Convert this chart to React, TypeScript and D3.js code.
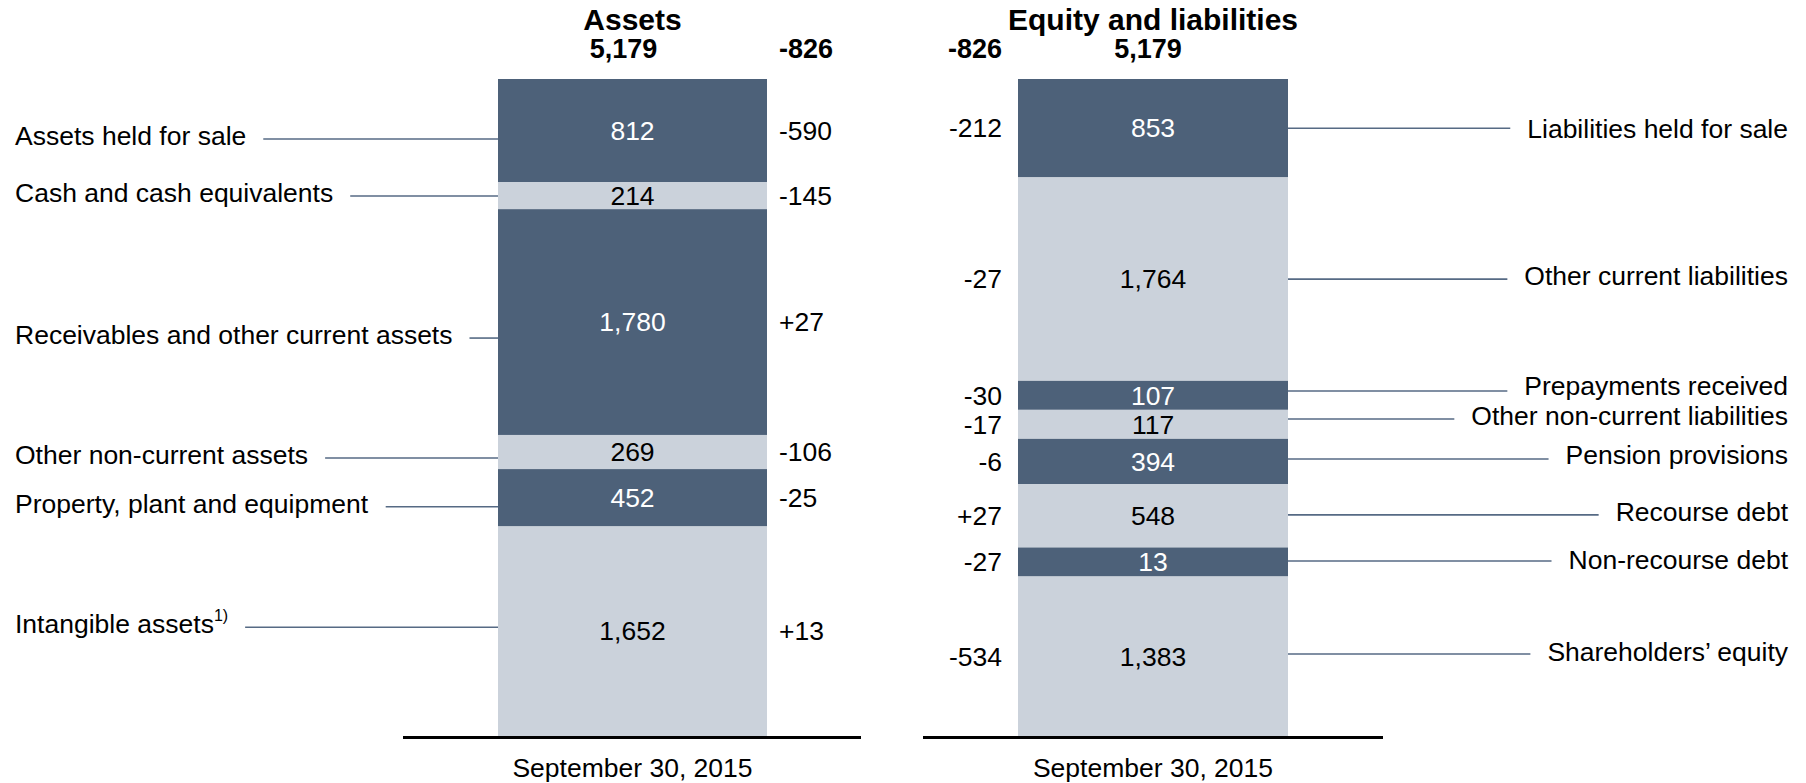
import React, { useEffect, useRef } from "react";
import * as d3 from "d3";

// ---------- data ----------
const panelTitles = ["Assets", "Equity and liabilities"];
const dateLabel = "September 30, 2015";
const totalValue = 5179;
const totalChange = -826;

const assetLabels = [
  "Assets held for sale",
  "Cash and cash equivalents",
  "Receivables and other current assets",
  "Other non-current assets",
  "Property, plant and equipment",
  "Intangible assets",
];
const assetFootnotes = ["", "", "", "", "", "1)"];
const assetValues = [812, 214, 1780, 269, 452, 1652];
const assetChanges = [-590, -145, 27, -106, -25, 13];

const liabilityLabels = [
  "Liabilities held for sale",
  "Other current liabilities",
  "Prepayments received",
  "Other non-current liabilities",
  "Pension provisions",
  "Recourse debt",
  "Non-recourse debt",
  "Shareholders\u2019 equity",
];
const liabilityValues = [853, 1764, 107, 117, 394, 548, 13, 1383];
const liabilityChanges = [-212, -27, -30, -17, -6, 27, -27, -534];

// ---------- style / layout ----------
const W = 1806;
const H = 783;
const DARK = "#4d6179";
const LIGHT = "#cbd2db";
const LEADER = "#566a84";
const FONT = "'Liberation Sans', Arial, Helvetica, sans-serif";
const FS = 26.5;
const BAR_TOP = 79;
const BAR_BOTTOM = 736;

const fmt = d3.format(",");
const fmtChange = (v: number) => (v > 0 ? "+" : "-") + fmt(Math.abs(v));

function stackLayout(values: number[], y0: number, y1: number, minH: number) {
  const small = new Set<number>();
  let scale = d3.scaleLinear();
  for (let iter = 0; iter < 10; iter++) {
    const rest = d3.sum(values.filter((_, i) => !small.has(i)));
    const avail = y1 - y0 - small.size * minH;
    scale = d3.scaleLinear().domain([0, rest]).range([0, avail]);
    let changed = false;
    values.forEach((v, i) => {
      if (!small.has(i) && scale(v) < minH) {
        small.add(i);
        changed = true;
      }
    });
    if (!changed) break;
  }
  let y = y0;
  return values.map((v, i) => {
    const h = small.has(i) ? minH : scale(v);
    const s = { y0: y, y1: y + h };
    y += h;
    return s;
  });
}

export default function App() {
  const ref = useRef<SVGSVGElement>(null);

  useEffect(() => {
    const svg = d3.select(ref.current);
    svg.selectAll("*").remove();

    const panels = [
      {
        title: panelTitles[0],
        side: "left",
        barX: d3.scaleLinear().domain([0, 1]).range([498, 767]),
        labels: assetLabels,
        notes: assetFootnotes,
        values: assetValues,
        changes: assetChanges,
        minH: 0,
        lineNudge: [8.5, 0.4, 16, 6, 9, -4],
        textNudge: [-3, -3, -3, -3, -3, -3],
        axis: [403, 861],
        labelX: 15,
        changeX: 779,
        totalShift: -9,
      },
      {
        title: panelTitles[1],
        side: "right",
        barX: d3.scaleLinear().domain([0, 1]).range([1018, 1288]),
        labels: liabilityLabels,
        notes: liabilityLabels.map(() => ""),
        values: liabilityValues,
        changes: liabilityChanges,
        minH: 29,
        lineNudge: [0, 0, -4.4, -5.4, -2.6, -1, -1, -2.3],
        textNudge: [1, -3, -5, -3, -4, -3, -1, -2],
        axis: [923, 1383],
        labelX: 1788,
        changeX: 1002,
        totalShift: -5,
      },
    ];

    panels.forEach((p) => {
      const g = svg.append("g");
      const x0 = p.barX(0);
      const x1 = p.barX(1);
      const cx = p.barX(0.5);
      const segs = stackLayout(p.values, BAR_TOP, BAR_BOTTOM, p.minH);

      // title
      g.append("text")
        .attr("x", cx)
        .attr("y", 30)
        .attr("text-anchor", "middle")
        .attr("font-family", FONT)
        .attr("font-weight", "bold")
        .attr("font-size", 30)
        .attr("fill", "#000")
        .text(p.title);
      // total
      g.append("text")
        .attr("x", cx + p.totalShift)
        .attr("y", 58)
        .attr("text-anchor", "middle")
        .attr("font-family", FONT)
        .attr("font-weight", "bold")
        .attr("font-size", 27)
        .attr("fill", "#000")
        .text(fmt(totalValue));
      g.append("text")
        .attr("x", p.changeX)
        .attr("y", 58)
        .attr("text-anchor", p.side === "left" ? "start" : "end")
        .attr("font-family", FONT)
        .attr("font-weight", "bold")
        .attr("font-size", 27)
        .attr("fill", "#000")
        .text(fmtChange(totalChange));

      segs.forEach((s, i) => {
        const dark = i % 2 === 0;
        g.append("rect")
          .attr("x", x0)
          .attr("y", s.y0)
          .attr("width", x1 - x0)
          .attr("height", s.y1 - s.y0)
          .attr("fill", dark ? DARK : LIGHT);
        const cy = (s.y0 + s.y1) / 2;
        g.append("text")
          .attr("x", cx)
          .attr("y", cy)
          .attr("dy", "0.35em")
          .attr("text-anchor", "middle")
          .attr("font-family", FONT)
          .attr("font-size", FS)
          .attr("fill", dark ? "#ffffff" : "#000000")
          .text(fmt(p.values[i]));
        g.append("text")
          .attr("x", p.changeX)
          .attr("y", cy)
          .attr("dy", "0.35em")
          .attr("text-anchor", p.side === "left" ? "start" : "end")
          .attr("font-family", FONT)
          .attr("font-size", FS)
          .attr("fill", "#000")
          .text(fmtChange(p.changes[i]));

        // category label + leader line
        const ly = cy + p.lineNudge[i];
        const t = g
          .append("text")
          .attr("x", p.labelX)
          .attr("y", ly + p.textNudge[i])
          .attr("dy", "0.35em")
          .attr("text-anchor", p.side === "left" ? "start" : "end")
          .attr("font-family", FONT)
          .attr("font-size", FS)
          .attr("fill", "#000");
        t.append("tspan").text(p.labels[i]);
        if (p.notes[i]) {
          t.append("tspan")
            .attr("font-size", 16)
            .attr("dy", "-0.75em")
            .text(p.notes[i]);
        }
        const node = t.node() as SVGTextElement;
        const bb = node.getBBox();
        if (p.side === "left") {
          g.append("line")
            .attr("x1", bb.x + bb.width + 17)
            .attr("x2", x0)
            .attr("y1", ly)
            .attr("y2", ly)
            .attr("stroke", LEADER)
            .attr("stroke-width", 1.6);
        } else {
          g.append("line")
            .attr("x1", x1)
            .attr("x2", bb.x - 17)
            .attr("y1", ly)
            .attr("y2", ly)
            .attr("stroke", LEADER)
            .attr("stroke-width", 1.6);
        }
      });

      // base line
      g.append("line")
        .attr("x1", p.axis[0])
        .attr("x2", p.axis[1])
        .attr("y1", BAR_BOTTOM + 1.5)
        .attr("y2", BAR_BOTTOM + 1.5)
        .attr("stroke", "#000")
        .attr("stroke-width", 3);
      g.append("text")
        .attr("x", cx)
        .attr("y", 777)
        .attr("text-anchor", "middle")
        .attr("font-family", FONT)
        .attr("font-size", FS)
        .attr("fill", "#000")
        .text(dateLabel);
    });
  }, []);

  return (
    <svg
      ref={ref}
      width={W}
      height={H}
      style={{ position: "absolute", left: 0, top: 0, background: "#fff" }}
    />
  );
}
